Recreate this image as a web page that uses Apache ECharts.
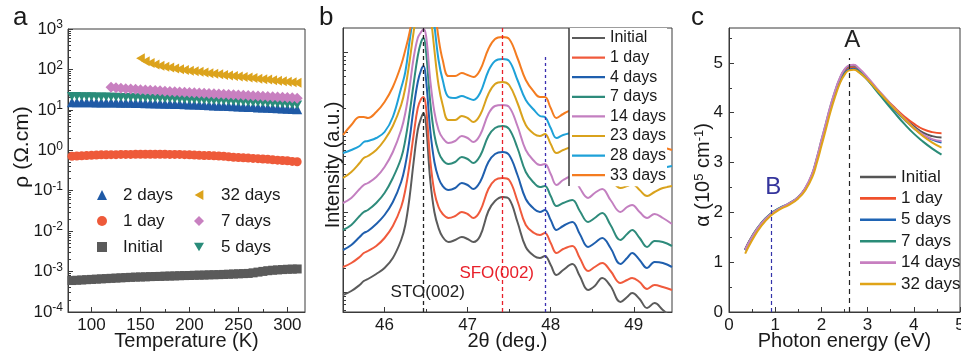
<!DOCTYPE html>
<html><head><meta charset="utf-8">
<script src="https://cdn.jsdelivr.net/npm/echarts@6/dist/echarts.min.js"></script>
<style>html,body{margin:0;padding:0;background:#fff}#c{width:961px;height:353px}</style>
</head><body><div id="c"></div>
<script>
// ---------------- Panel a : resistivity vs temperature ----------------
const tempA = [80,85,90,95,100,105,110,115,120,125,130,135,140,145,150,155,160,165,170,175,180,185,190,195,200,205,210,215,220,225,230,235,240,245,250,255,260,265,270,275,280,285,290,295,300,305,310];
const tempA7 = tempA.slice(8);   // from 120 K
const tempA32 = tempA.slice(14); // from 150 K
const rhoInitial = [6.0e-4,6.1e-4,6.2e-4,6.3e-4,6.4e-4,6.5e-4,6.6e-4,6.7e-4,6.8e-4,6.9e-4,7.0e-4,7.1e-4,7.2e-4,7.3e-4,7.35e-4,7.4e-4,7.5e-4,7.55e-4,7.6e-4,7.7e-4,7.75e-4,7.8e-4,7.9e-4,7.95e-4,8.0e-4,8.1e-4,8.15e-4,8.2e-4,8.3e-4,8.35e-4,8.4e-4,8.5e-4,8.6e-4,8.7e-4,8.8e-4,8.9e-4,9.0e-4,9.3e-4,9.7e-4,1.01e-3,1.05e-3,1.08e-3,1.10e-3,1.12e-3,1.14e-3,1.15e-3,1.16e-3];
const rho1day = [0.71,0.72,0.73,0.74,0.75,0.76,0.77,0.77,0.78,0.78,0.79,0.79,0.79,0.80,0.80,0.80,0.80,0.80,0.80,0.80,0.79,0.79,0.79,0.78,0.77,0.76,0.75,0.745,0.74,0.73,0.72,0.71,0.69,0.67,0.66,0.65,0.64,0.63,0.62,0.61,0.60,0.58,0.57,0.56,0.55,0.53,0.52];
const rho2days = [15.5,15.5,15.5,15.4,15.4,15.3,15.3,15.2,15.2,15.1,15.0,15.0,14.9,14.8,14.7,14.6,14.5,14.4,14.3,14.2,14.1,14.0,13.9,13.8,13.6,13.5,13.3,13.2,13.0,12.9,12.7,12.6,12.4,12.3,12.1,12.0,11.8,11.7,11.5,11.4,11.2,11.1,10.9,10.8,10.6,10.5,10.3];
const rho5days = [21.6,21.5,21.4,21.3,21.2,21.1,21.0,20.9,20.8,20.6,20.5,20.3,20.2,20.0,19.9,19.7,19.6,19.4,19.2,19.0,18.8,18.6,18.4,18.2,18.0,17.8,17.6,17.4,17.2,17.0,16.8,16.6,16.4,16.2,16.0,15.8,15.6,15.4,15.2,15.0,14.7,14.5,14.3,14.0,13.8,13.5,13.3];
const rho7days = [36,35,34.2,33.5,32.8,32.2,31.6,31.0,30.5,30.0,29.5,29.0,28.6,28.2,27.8,27.4,27.0,26.6,26.2,25.8,25.4,25.0,24.6,24.3,24.0,23.6,23.3,23.0,22.6,22.3,22.0,21.6,21.3,21.0,20.7,20.4,20.1,19.8,19.5];
const rho32days = [190,160,145,133,124,117,111,106,101,97,93,90,87,84,81,78,76,73,71,69,67,65,63,61,59,57.5,56,54,52.5,51,49.5,48,46.5];
const aTicksX = [100,150,200,250,300];
const aMinorX = [125,175,225,275];

// ---------------- Panel b : XRD 2theta scans (arbitrary intensity, offset) ----------------
const twoTheta = [45.5,45.6,45.7,45.75,45.8,45.9,46.0,46.1,46.2,46.25,46.3,46.35,46.4,46.44,46.47,46.5,46.55,46.6,46.65,46.7,46.77,46.85,46.93,47.0,47.07,47.15,47.25,47.33,47.42,47.5,47.6,47.7,47.8,47.87,47.93,48.0,48.07,48.15,48.26,48.35,48.45,48.53,48.62,48.72,48.84,48.92,48.98,49.07,49.16,49.25,49.35,49.46];
const xrdInitial = [17,21,27,31,33,38,44,54,72,87,114,150,182,194,199,187,132,100,84,75,70,72,75,73,70,76,101,111,115,113,90,65,56,54,56,47,37,42,48,36,22,26,34,26,10,15,19,13,4,9,2,-6];
const xrd1day = [45,49,55,59,61,66,74,86,105,122,147,177,204,213,215,204,152,120,105,98,94,96,100,98,94,101,123,132,134,132,111,87,79,77,79,69,59,63,66,54,41,45,49,41,29,32,34,30,23,27,25,22];
const xrd4days = [62,67,75,79,81,88,97,110,130,147,172,204,230,242,246,232,182,150,134,126,122,124,129,127,123,130,150,158,160,157,137,113,103,100,102,92,82,86,90,78,65,69,74,64,48,54,59,52,44,50,49,45];
const xrd7days = [82,87,96,100,102,109,119,134,154,172,198,228,256,270,274,260,210,177,160,152,148,150,155,153,149,156,176,184,186,183,164,140,129,125,126,116,106,109,112,101,90,94,99,87,72,78,82,74,65,71,70,66];
const xrd14days = [109,114,123,127,129,135,145,160,182,199,224,254,274,280,283,276,232,200,182,174,169,171,176,174,170,177,198,206,207,205,186,162,151,147,148,138,127,132,136,124,114,119,123,112,100,105,107,100,94,98,94,88];
const xrd23days = [134,140,149,154,156,162,172,186,207,224,250,280,307,332,352,342,302,262,227,207,192,192,196,194,190,197,218,228,230,227,209,187,178,176,178,168,159,162,165,152,140,142,145,134,124,126,128,122,116,120,124,126];
const xrd28days = [159,162,166,170,171,174,180,195,224,240,270,300,337,362,372,362,322,287,252,232,215,214,216,214,212,219,241,251,253,251,232,212,202,196,195,184,174,177,179,167,155,159,162,154,144,147,150,144,137,142,144,146];
const xrd33days = [177,187,195,195,194,200,210,225,247,262,279,302,332,362,382,372,337,307,274,252,236,236,239,237,235,242,263,273,275,273,254,232,220,215,215,204,194,198,202,190,178,181,184,176,166,169,172,166,160,163,164,162];
const bTicksX = [46,47,48,49];
const bMinorX = [46.5,47.5,48.5];
const bTicksY = [20,100,180,260];
const bPeakSTO = 46.47, bPeakSFO = 47.42, bPeakFringe = 47.93;

// ---------------- Panel c : absorption coefficient ----------------
const energy = [0.35,0.5,0.7,0.9,1.1,1.3,1.5,1.65,1.8,1.9,2.0,2.1,2.2,2.3,2.4,2.5,2.6,2.7,2.8,3.0,3.2,3.4,3.6,3.8,4.0,4.2,4.4,4.6];
const absInitial = [1.24,1.50,1.77,1.96,2.08,2.17,2.30,2.47,2.75,3.05,3.40,3.75,4.10,4.40,4.65,4.82,4.91,4.92,4.86,4.68,4.47,4.26,4.07,3.89,3.73,3.60,3.53,3.50];
const abs1day = [1.26,1.52,1.78,1.96,2.08,2.17,2.30,2.47,2.75,3.05,3.40,3.75,4.10,4.40,4.65,4.82,4.91,4.92,4.86,4.68,4.47,4.27,4.09,3.92,3.78,3.67,3.61,3.59];
const abs5days = [1.25,1.51,1.77,1.96,2.08,2.17,2.30,2.47,2.75,3.05,3.40,3.74,4.08,4.38,4.62,4.79,4.87,4.88,4.83,4.66,4.45,4.24,4.04,3.86,3.69,3.55,3.46,3.40];
const abs7days = [1.25,1.52,1.79,1.97,2.09,2.18,2.31,2.48,2.77,3.08,3.44,3.79,4.14,4.44,4.69,4.86,4.94,4.95,4.88,4.66,4.43,4.20,3.98,3.77,3.58,3.42,3.28,3.16];
const abs14days = [1.25,1.51,1.78,1.96,2.08,2.18,2.31,2.49,2.78,3.09,3.45,3.80,4.15,4.45,4.70,4.87,4.95,4.96,4.90,4.71,4.49,4.28,4.07,3.88,3.70,3.56,3.47,3.43];
const abs32days = [1.17,1.44,1.73,1.93,2.06,2.15,2.28,2.44,2.70,2.99,3.33,3.68,4.03,4.33,4.59,4.76,4.85,4.86,4.82,4.66,4.46,4.26,4.06,3.87,3.69,3.53,3.40,3.30];
const cTicksX = [0,1,2,3,4,5];
const cMinorX = [0.5,1.5,2.5,3.5,4.5];
const cTicksY = [0,1,2,3,4,5];
const cMinorY = [0.5,1.5,2.5,3.5,4.5,5.5];
const cPeakA = 2.6, cPeakB = 0.91;

// ---------------- styling ----------------
const FONT = '"Liberation Sans", Arial, Helvetica, sans-serif';
const AX = '#3a3a3a';
const TXT = '#1a1a1a';
const zip = (xs, ys) => xs.map((x, i) => [x, ys[i]]);
const stripTag = n => n.split('|')[0];
const TRI_DOWN = 'path://M0,0L10,0L5,8.7Z';
const TRI_LEFT = 'path://M8.7,0L8.7,10L0,5Z';

const aMinorY = [];
for (let n = -4; n < 3; n++) for (let k = 2; k <= 9; k++) aMinorY.push(n + Math.log10(k));
const bMinorY = [];
[-60, 20, 100, 180, 260].forEach(b => [24, 38, 48, 56, 62, 68, 72, 76].forEach(o => { const v = b + o; if (v > 0 && v < 284) bMinorY.push(v); }));

function tickAxis(gridIndex, min, max, values, len, position) {
  return {
    type: 'value', gridIndex, min, max, position,
    axisLine: {show: false, onZero: false},
    axisTick: {show: true, inside: true, length: len, customValues: values, lineStyle: {color: AX, width: 1}},
    axisLabel: {show: false}, splitLine: {show: false}, minorTick: {show: false}
  };
}
const labelStyle = {fontSize: 17, fontFamily: FONT, color: TXT};
const lineIcon = names => names.map(n => ({name: n, icon: 'rect'}));

const chart = echarts.init(document.getElementById('c'), null, {renderer: 'canvas', width: 961, height: 353});

const option = {
  animation: false,
  backgroundColor: '#fff',
  title: [
    {text: 'a', left: 8, top: 0, padding: 5, textStyle: {fontSize: 26, fontWeight: 'normal', fontFamily: FONT, color: TXT}},
    {text: 'b', left: 314, top: 0, padding: 5, textStyle: {fontSize: 26, fontWeight: 'normal', fontFamily: FONT, color: TXT}},
    {text: 'c', left: 686, top: 0, padding: 5, textStyle: {fontSize: 26, fontWeight: 'normal', fontFamily: FONT, color: TXT}}
  ],
  grid: [
    {left: 68, top: 29, width: 237, height: 283, show: true, borderColor: AX, borderWidth: 1, backgroundColor: 'transparent', containLabel: false, outerBoundsMode: 'none'},
    {left: 343, top: 28, width: 329, height: 284, show: true, borderColor: AX, borderWidth: 1, backgroundColor: 'transparent', containLabel: false, outerBoundsMode: 'none'},
    {left: 729, top: 28, width: 231, height: 284, show: true, borderColor: AX, borderWidth: 1, backgroundColor: 'transparent', containLabel: false, outerBoundsMode: 'none'}
  ],
  xAxis: [
    {type: 'value', gridIndex: 0, min: 76, max: 318, position: 'bottom',
     axisLine: {show: true, onZero: false, lineStyle: {color: AX}},
     axisTick: {show: true, inside: true, length: 5, customValues: aTicksX, lineStyle: {color: AX}},
     axisLabel: Object.assign({customValues: aTicksX, margin: 5}, labelStyle),
     splitLine: {show: false},
     name: 'Temperature (K)', nameLocation: 'middle', nameGap: 19, nameMoveOverlap: false,
     nameTextStyle: {fontSize: 20, fontFamily: FONT, color: TXT}},
    tickAxis(0, 76, 318, aMinorX, 3, 'bottom'),
    {type: 'value', gridIndex: 1, min: 45.5, max: 49.46, position: 'bottom',
     axisLine: {show: true, onZero: false, lineStyle: {color: AX}},
     axisTick: {show: true, inside: true, length: 5, customValues: bTicksX, lineStyle: {color: AX}},
     axisLabel: Object.assign({customValues: bTicksX, margin: 5}, labelStyle),
     splitLine: {show: false},
     name: '2θ (deg.)', nameLocation: 'middle', nameGap: 19, nameMoveOverlap: false,
     nameTextStyle: {fontSize: 20, fontFamily: FONT, color: TXT}},
    tickAxis(1, 45.5, 49.46, bMinorX, 3, 'bottom'),
    {type: 'value', gridIndex: 2, min: 0, max: 5, position: 'bottom',
     axisLine: {show: true, onZero: false, lineStyle: {color: AX}},
     axisTick: {show: true, inside: true, length: 5, customValues: cTicksX, lineStyle: {color: AX}},
     axisLabel: Object.assign({customValues: cTicksX, margin: 5}, labelStyle),
     splitLine: {show: false},
     name: 'Photon energy (eV)', nameLocation: 'middle', nameGap: 19, nameMoveOverlap: false,
     nameTextStyle: {fontSize: 20, fontFamily: FONT, color: TXT}},
    tickAxis(2, 0, 5, cMinorX, 3, 'bottom')
  ],
  yAxis: [
    {type: 'log', logBase: 10, gridIndex: 0, min: 1e-4, max: 1e3, splitNumber: 7, position: 'left',
     axisLine: {show: true, onZero: false, lineStyle: {color: AX}},
     axisTick: {show: true, inside: true, length: 5, lineStyle: {color: AX}},
     axisLabel: {margin: 5, color: TXT,
       formatter: v => '{b|10}{s|' + Math.round(Math.log10(v)) + '}',
       rich: {b: {fontSize: 17, fontFamily: FONT, color: TXT, lineHeight: 20},
              s: {fontSize: 12, fontFamily: FONT, color: TXT, verticalAlign: 'top', lineHeight: 12}}},
     splitLine: {show: false}, minorTick: {show: false}},
    tickAxis(0, -4, 3, aMinorY, 3, 'left'),
    {type: 'value', gridIndex: 1, min: 0, max: 284, position: 'left',
     axisLine: {show: true, onZero: false, lineStyle: {color: AX}},
     axisTick: {show: true, inside: true, length: 5, customValues: bTicksY, lineStyle: {color: AX}},
     axisLabel: {show: false}, splitLine: {show: false}},
    tickAxis(1, 0, 284, bMinorY, 3, 'left'),
    {type: 'value', gridIndex: 2, min: 0, max: 5.7, position: 'left',
     axisLine: {show: true, onZero: false, lineStyle: {color: AX}},
     axisTick: {show: true, inside: true, length: 5, customValues: cTicksY, lineStyle: {color: AX}},
     axisLabel: Object.assign({customValues: cTicksY, margin: 6}, labelStyle),
     splitLine: {show: false}},
    tickAxis(2, 0, 5.7, cMinorY, 3, 'left')
  ],
  legend: [
    {orient: 'vertical', left: 97, top: 185, padding: 0, itemGap: 6, itemWidth: 10, itemHeight: 10,
     textStyle: {fontSize: 17, lineHeight: 20, fontFamily: FONT, color: TXT, padding: [0, 0, 0, 11]}, formatter: stripTag,
     selectedMode: false, data: ['2 days|a', '1 day|a', 'Initial|a']},
    {orient: 'vertical', left: 194, top: 185, padding: 0, itemGap: 6, itemWidth: 10, itemHeight: 10,
     textStyle: {fontSize: 17, lineHeight: 20, fontFamily: FONT, color: TXT, padding: [0, 0, 0, 12]}, formatter: stripTag,
     selectedMode: false, data: ['32 days|a', '7 days|a', '5 days|a']},
    {orient: 'vertical', left: 569, top: 28, padding: [2, 1, 3, 3], itemGap: 3.6, itemWidth: 33, itemHeight: 2.2,
     backgroundColor: '#fff', textStyle: {fontSize: 16, lineHeight: 16, fontFamily: FONT, color: TXT},
     formatter: stripTag, selectedMode: false,
     data: lineIcon(['Initial|b', '1 day|b', '4 days|b', '7 days|b', '14 days|b', '23 days|b', '28 days|b', '33 days|b'])},
    {orient: 'vertical', left: 860, top: 168, padding: 0, itemGap: 3.4, itemWidth: 36, itemHeight: 2.6,
     textStyle: {fontSize: 17, lineHeight: 18, fontFamily: FONT, color: TXT},
     formatter: stripTag, selectedMode: false,
     data: lineIcon(['Initial|c', '1 day|c', '5 days|c', '7 days|c', '14 days|c', '32 days|c'])}
  ],
  graphic: [
    {type: 'text', x: 22, y: 147, rotation: Math.PI / 2,
     style: {text: 'ρ (Ω.cm)', fontSize: 21, fontFamily: FONT, fill: TXT, align: 'center', verticalAlign: 'middle'}},
    {type: 'text', x: 333, y: 165, rotation: Math.PI / 2,
     style: {text: 'Intensity (a.u.)', fontSize: 20, fontFamily: FONT, fill: TXT, align: 'center', verticalAlign: 'middle'}},
    {type: 'text', x: 703, y: 175, rotation: Math.PI / 2,
     style: {text: 'α (10{s|5} cm{s|-1})', fontSize: 20, fontFamily: FONT, fill: TXT, align: 'center', verticalAlign: 'middle',
             rich: {s: {fontSize: 13, fontFamily: FONT, fill: TXT, verticalAlign: 'top', lineHeight: 13}}}},
    {type: 'rect', shape: {x: 569, y: 28, width: 0, height: 158}, style: {stroke: AX, lineWidth: 1, fill: null}, z: 100}
  ],
  series: []
};

const aSeries = [
  ['Initial|a', tempA, rhoInitial, 'rect', 9, '#5a5a5a'],
  ['1 day|a', tempA, rho1day, 'circle', 9, '#ee5a3a'],
  ['2 days|a', tempA, rho2days, 'triangle', 10, '#1f5aa6'],
  ['5 days|a', tempA, rho5days, TRI_DOWN, 10, '#2a8c7a'],
  ['7 days|a', tempA7, rho7days, 'diamond', 11, '#c880c0'],
  ['32 days|a', tempA32, rho32days, TRI_LEFT, 10, '#dca31c']
];
aSeries.forEach(s => option.series.push({
  type: 'scatter', name: s[0], xAxisIndex: 0, yAxisIndex: 0, data: zip(s[1], s[2]),
  symbol: s[3], symbolSize: s[4], symbolKeepAspect: true, itemStyle: {color: s[5], opacity: 1}
}));

const bSeries = [
  ['Initial|b', xrdInitial, '#5b5b5b'], ['1 day|b', xrd1day, '#f05a3c'], ['4 days|b', xrd4days, '#1f5fae'],
  ['7 days|b', xrd7days, '#2e8b7b'], ['14 days|b', xrd14days, '#c37fc0'], ['23 days|b', xrd23days, '#d9a21c'],
  ['28 days|b', xrd28days, '#1ea1d8'], ['33 days|b', xrd33days, '#f47c20']
];
bSeries.forEach(s => option.series.push({
  type: 'line', name: s[0], xAxisIndex: 2, yAxisIndex: 2, data: zip(twoTheta, s[1]),
  symbol: 'none', showSymbol: false, smooth: 0.4, clip: true, color: s[2],
  lineStyle: {color: s[2], width: 2}
}));
option.series.push({
  type: 'line', name: 'refB', xAxisIndex: 2, yAxisIndex: 2, data: [], z: 3,
  markLine: {silent: true, symbol: ['none', 'none'], label: {show: false}, animation: false,
    data: [
      [{coord: [bPeakSTO, 0], lineStyle: {color: '#222', type: [4, 3], width: 1.3}}, {coord: [bPeakSTO, 284]}],
      [{coord: [bPeakSFO, 0], lineStyle: {color: '#e8202a', type: [4, 3], width: 1.3}}, {coord: [bPeakSFO, 284]}],
      [{coord: [bPeakFringe, 0], lineStyle: {color: '#3a2fb0', type: [3, 3], width: 1.3}}, {coord: [bPeakFringe, 255]}]
    ]},
  markPoint: {symbol: 'circle', symbolSize: 0, silent: true, animation: false,
    data: [
      {coord: [46.52, 20], label: {show: true, position: 'inside', formatter: 'STO(002)', fontSize: 17, fontFamily: FONT, color: '#222'}},
      {coord: [47.35, 39], label: {show: true, position: 'inside', formatter: 'SFO(002)', fontSize: 17, fontFamily: FONT, color: '#e8202a'}}
    ]}
});

const cSeries = [
  ['Initial|c', absInitial, '#555555'], ['1 day|c', abs1day, '#f0502c'], ['5 days|c', abs5days, '#1f64b4'],
  ['7 days|c', abs7days, '#2a8c78'], ['14 days|c', abs14days, '#c77fc0'], ['32 days|c', abs32days, '#e0a418']
];
cSeries.forEach(s => option.series.push({
  type: 'line', name: s[0], xAxisIndex: 4, yAxisIndex: 4, data: zip(energy, s[1]),
  symbol: 'none', showSymbol: false, smooth: true, clip: true, color: s[2],
  lineStyle: {color: s[2], width: 2}
}));
option.series.push({
  type: 'line', name: 'refC', xAxisIndex: 4, yAxisIndex: 4, data: [], z: 3,
  markLine: {silent: true, symbol: ['none', 'none'], label: {show: false}, animation: false,
    data: [
      [{coord: [cPeakA, 0], lineStyle: {color: '#222', type: [5, 4], width: 1.2}}, {coord: [cPeakA, 5.1]}],
      [{coord: [cPeakB, 0], lineStyle: {color: '#3333aa', type: [4, 3], width: 1.2}}, {coord: [cPeakB, 2.15]}]
    ]},
  markPoint: {symbol: 'circle', symbolSize: 0, silent: true, animation: false,
    data: [
      {coord: [2.67, 5.46], label: {show: true, position: 'inside', formatter: 'A', fontSize: 24, fontFamily: FONT, color: '#222'}},
      {coord: [0.96, 2.5], label: {show: true, position: 'inside', formatter: 'B', fontSize: 24, fontFamily: FONT, color: '#34349c'}}
    ]}
});

chart.setOption(option);
</script>
</body></html>
